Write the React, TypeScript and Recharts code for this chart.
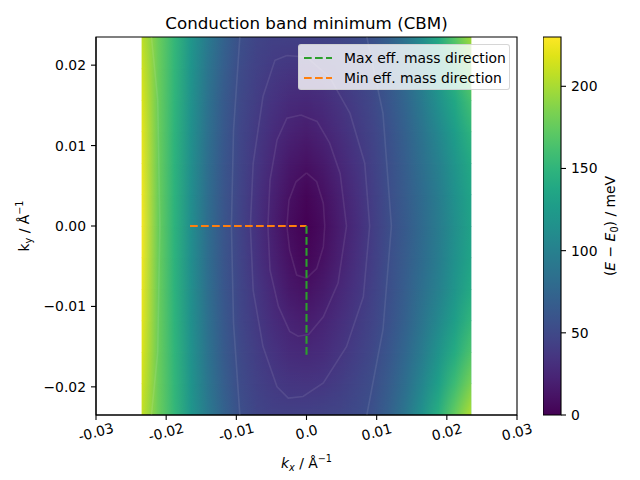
import React from 'react';
import { ComposedChart, XAxis, YAxis, ReferenceArea, Scatter } from 'recharts';

// ---------------- data ----------------
const KX = [-0.0235, -0.02115, -0.0188, -0.01645, -0.0141, -0.01175, -0.0094, -0.00705, -0.0047, -0.00235, 0,
  0.00235, 0.0047, 0.00705, 0.0094, 0.01175, 0.0141, 0.01645, 0.0188, 0.02115, 0.0235];
const KY = [0.0235, 0.01958, 0.01567, 0.01175, 0.00783, 0.00392, 0, -0.00392, -0.00783, -0.01175, -0.01567, -0.01958, -0.0235];

// energy (meV) per row of KY, one value per KX column
const E_ROW_00 = [208, 178, 152, 120, 94, 72, 55, 47, 44, 43, 44, 45, 47, 51, 57, 70, 88, 112, 140, 170, 198];
const E_ROW_01 = [214, 178, 151, 118, 90, 68, 52, 44, 39, 36, 35, 37, 41, 47, 53, 65, 81, 102, 126, 153, 178];
const E_ROW_02 = [218, 178, 150, 116, 87, 65, 50, 41, 34, 28, 26, 29, 35, 42, 49, 61, 75, 94, 115, 138, 161];
const E_ROW_03 = [222, 178, 149, 114, 85, 63, 48, 38, 29, 22, 18, 23, 30, 38, 46, 57, 71, 87, 106, 127, 149];
const E_ROW_04 = [224, 178, 148, 113, 83, 61, 47, 36, 25, 15, 10, 16, 25, 34, 44, 55, 68, 83, 100, 119, 139];
const E_ROW_05 = [226, 178, 148, 112, 82, 60, 46, 33, 21, 10, 3, 10, 20, 31, 42, 54, 66, 80, 96, 115, 134];
const E_ROW_06 = [228, 178, 148, 112, 82, 60, 45, 32, 19, 7, 0, 7, 18, 29, 41, 53, 65, 79, 95, 113, 132];
const E_ROW_07 = [226, 178, 148, 112, 82, 60, 46, 33, 21, 10, 3, 10, 20, 31, 42, 54, 66, 80, 96, 115, 134];
const E_ROW_08 = [224, 178, 148, 113, 83, 61, 47, 36, 25, 15, 10, 16, 25, 34, 44, 55, 68, 83, 100, 119, 140];
const E_ROW_09 = [222, 178, 149, 114, 85, 63, 48, 38, 29, 22, 18, 23, 30, 38, 46, 57, 71, 88, 107, 128, 151];
const E_ROW_10 = [218, 178, 150, 116, 87, 65, 50, 41, 34, 28, 26, 29, 35, 42, 49, 61, 76, 95, 117, 141, 165];
const E_ROW_11 = [214, 178, 151, 118, 90, 68, 52, 44, 39, 36, 35, 37, 41, 47, 53, 66, 82, 104, 129, 157, 183];
const E_ROW_12 = [209, 178, 152, 120, 94, 72, 55, 47, 44, 43, 44, 45, 47, 51, 57, 71, 90, 115, 144, 175, 203];
const E_ROWS = [E_ROW_00, E_ROW_01, E_ROW_02, E_ROW_03, E_ROW_04, E_ROW_05, E_ROW_06,
  E_ROW_07, E_ROW_08, E_ROW_09, E_ROW_10, E_ROW_11, E_ROW_12];

// contour lines: [kx, ky]
const CONTOUR_1 = [[0, 0.0066], [0.00145, 0.0055], [0.0024, 0.0028], [0.0026, 0], [0.0024, -0.0026], [0.00145, -0.0053], [0, -0.0065],
  [-0.0014, -0.0061], [-0.0024, -0.003], [-0.0028, 0], [-0.0025, 0.0032], [-0.0015, 0.0055], [0, 0.0066]];
const CONTOUR_2 = [[-0.0008, 0.0138], [0.0015, 0.013], [0.0033, 0.0103], [0.0048, 0.0065], [0.0057, 0], [0.0045, -0.0071],
  [0.0024, -0.0113], [0.0003, -0.0135], [-0.0012, -0.0137], [-0.0024, -0.0131], [-0.004, -0.01], [-0.0052, -0.0055],
  [-0.0055, 0], [-0.0052, 0.0057], [-0.0042, 0.0107], [-0.0028, 0.0134], [-0.0008, 0.0138]];
const CONTOUR_3 = [[-0.0028, 0.0212], [-0.0045, 0.0206], [-0.0062, 0.0161], [-0.0076, 0.0078], [-0.008, 0], [-0.0076, -0.008],
  [-0.0062, -0.015], [-0.0042, -0.02], [-0.0026, -0.0214], [-0.0005, -0.0212], [0.0024, -0.0195], [0.0057, -0.015],
  [0.0081, -0.0088], [0.009, 0], [0.0083, 0.0078], [0.0062, 0.014], [0.0033, 0.0185], [0, 0.021], [-0.0028, 0.0212]];
const CONTOUR_4L = [[-0.0095, 0.0235], [-0.0104, 0.0119], [-0.0107, 0], [-0.0104, -0.0121], [-0.0095, -0.0235]];
const CONTOUR_4R = [[0.0086, 0.0235], [0.0109, 0.014], [0.0121, 0], [0.0109, -0.0129], [0.0086, -0.0235]];
const CONTOUR_5L = [[-0.0221, 0.0235], [-0.0212, 0.0157], [-0.0209, 0], [-0.0212, -0.0157], [-0.0221, -0.0235]];
const CONTOURS = [CONTOUR_1, CONTOUR_2, CONTOUR_3, CONTOUR_4L, CONTOUR_4R, CONTOUR_5L];

const MAX_DIR = [[0, 0], [0, -0.0164]];
const MIN_DIR = [[-0.0166, 0], [0, 0]];

const XTICKS = [-0.03, -0.02, -0.01, 0, 0.01, 0.02, 0.03];
const XTICK_LABELS = ['-0.03', '-0.02', '-0.01', '0.0', '0.01', '0.02', '0.03'];
const YTICKS = [-0.02, -0.01, 0, 0.01, 0.02];
const YTICK_LABELS = ['\u22120.02', '\u22120.01', '0.00', '0.01', '0.02'];
const CB_TICKS = [0, 50, 100, 150, 200];
const E_MAX = 230;

const LEGEND_ITEMS = [
  { label: 'Max eff. mass direction', color: '#2ca02c' },
  { label: 'Min eff. mass direction', color: '#ff7f0e' },
];

// ---------------- styling helpers ----------------
const VIRIDIS = ['#440154', '#471365', '#482475', '#463480', '#414487', '#3b528b', '#355f8d', '#2f6c8e', '#2a788e', '#25848e',
  '#21918c', '#1e9c89', '#22a884', '#2fb47c', '#44bf70', '#5ec962', '#7ad151', '#9bd93c', '#bddf26', '#dfe318', '#fde725'];
const hex = (h: string) => [parseInt(h.slice(1, 3), 16), parseInt(h.slice(3, 5), 16), parseInt(h.slice(5, 7), 16)];
function viridis(v: number): string {
  const t = Math.max(0, Math.min(1, v / E_MAX)) * (VIRIDIS.length - 1);
  const i = Math.min(VIRIDIS.length - 2, Math.floor(t));
  const f = t - i;
  const a = hex(VIRIDIS[i]);
  const b = hex(VIRIDIS[i + 1]);
  const c = a.map((x, k) => Math.round(x + (b[k] - x) * f));
  return `rgb(${c[0]},${c[1]},${c[2]})`;
}

const FONT = 'DejaVu Sans, sans-serif';
const TICK_FS = 13.9;
const toPts = (arr: number[][]) => arr.map(([kx, ky]) => ({ kx, ky }));
const KX_MIN = KX[0];
const KX_MAX = KX[KX.length - 1];

const XTick = (props: any) => {
  const { x, y, payload } = props;
  const idx = XTICKS.findIndex((t) => Math.abs(t - payload.value) < 1e-9);
  return (
    <g transform={`translate(${x},${y + 12}) rotate(-15)`}>
      <text textAnchor="middle" dominantBaseline="central" fontSize={TICK_FS} fontFamily={FONT} fill="#000">
        {idx >= 0 ? XTICK_LABELS[idx] : ''}
      </text>
    </g>
  );
};

const YTick = (props: any) => {
  const { x, y, payload } = props;
  const idx = YTICKS.findIndex((t) => Math.abs(t - payload.value) < 1e-9);
  return (
    <text x={x} y={y} dy="0.36em" textAnchor="end" fontSize={TICK_FS} fontFamily={FONT} fill="#000">
      {idx >= 0 ? YTICK_LABELS[idx] : ''}
    </text>
  );
};

const CbTick = (props: any) => {
  const { x, y, payload } = props;
  return (
    <text x={x} y={y} dy="0.36em" textAnchor="start" fontSize={TICK_FS} fontFamily={FONT} fill="#000">
      {String(payload.value)}
    </text>
  );
};

const XLabel = (props: any) => {
  const vb = props.viewBox;
  const cx = vb.x + vb.width / 2;
  return (
    <text x={cx} y={vb.y + 53} textAnchor="middle" fontSize={TICK_FS} fontFamily={FONT} fill="#000">
      <tspan fontStyle="italic">k</tspan>
      <tspan fontStyle="italic" fontSize={9.7} dy={3}>x</tspan>
      <tspan dy={-3}> / Å</tspan>
      <tspan fontSize={9.7} dy={-6}>−1</tspan>
    </text>
  );
};

const YLabel = (props: any) => {
  const vb = props.viewBox;
  const cy = vb.y + vb.height / 2;
  const x = 21;
  return (
    <text x={x} y={cy} transform={`rotate(-90, ${x}, ${cy})`} textAnchor="middle" fontSize={TICK_FS} fontFamily={FONT} fill="#000">
      <tspan>k</tspan>
      <tspan fontSize={9.7} dy={3}>y</tspan>
      <tspan dy={-3}> / Å</tspan>
      <tspan fontSize={9.7} dy={-6}>−1</tspan>
    </text>
  );
};

const CbLabel = (props: any) => {
  const vb = props.viewBox;
  const cy = vb.y + vb.height / 2;
  const x = 72;
  return (
    <text x={x} y={cy} transform={`rotate(-90, ${x}, ${cy})`} textAnchor="middle" fontSize={TICK_FS} fontFamily={FONT} fill="#000">
      <tspan>(</tspan>
      <tspan fontStyle="italic">E</tspan>
      <tspan> − </tspan>
      <tspan fontStyle="italic">E</tspan>
      <tspan fontSize={9.7} dy={3}>0</tspan>
      <tspan dy={-3}>) / meV</tspan>
    </text>
  );
};

const Defs = () => (
  <svg width={0} height={0} style={{ position: 'absolute' }}>
    <defs>
      {E_ROWS.map((row, r) => (
        <linearGradient key={r} id={`erow${r}`} x1="0" y1="0" x2="1" y2="0">
          {row.map((v, c) => (
            <stop key={c} offset={(KX[c] - KX_MIN) / (KX_MAX - KX_MIN)} stopColor={viridis(v)} />
          ))}
        </linearGradient>
      ))}
      <linearGradient id="rampGrad" x1="0" y1="0" x2="0" y2="1">
        <stop offset="0" stopColor="#fff" stopOpacity={0} />
        <stop offset="1" stopColor="#fff" stopOpacity={1} />
      </linearGradient>
      <mask id="ramp" maskContentUnits="objectBoundingBox" x="0" y="0" width="1" height="1">
        <rect x="0" y="0" width="1" height="1" fill="url(#rampGrad)" />
      </mask>
      <linearGradient id="cbarGrad" x1="0" y1="1" x2="0" y2="0">
        {VIRIDIS.map((c, i) => (
          <stop key={i} offset={i / (VIRIDIS.length - 1)} stopColor={c} />
        ))}
      </linearGradient>
    </defs>
  </svg>
);

const noShape = () => <g />;

export default function App() {
  const W = 624;
  const H = 464;
  return (
    <div style={{ position: 'relative', width: W, height: H, fontFamily: FONT }}>
      <Defs />
      <div style={{ position: 'absolute', left: 0, top: 0 }}>
        <ComposedChart width={W} height={H} margin={{ top: 29, right: 115, bottom: 0, left: 0 }}>
          <XAxis
            dataKey="kx"
            type="number"
            domain={[-0.03, 0.03]}
            ticks={XTICKS}
            allowDataOverflow
            height={57}
            tick={<XTick />}
            tickSize={5}
            tickMargin={0}
            stroke="#000"
            tickLine={{ stroke: '#000', strokeWidth: 1.1 }}
            axisLine={{ stroke: '#000', strokeWidth: 1.1 }}
            label={<XLabel />}
          />
          <YAxis
            dataKey="ky"
            type="number"
            domain={[-0.0235, 0.0235]}
            ticks={YTICKS}
            allowDataOverflow
            width={88}
            tick={<YTick />}
            tickSize={5}
            tickMargin={5}
            stroke="#000"
            tickLine={{ stroke: '#000', strokeWidth: 1.1 }}
            axisLine={{ stroke: '#000', strokeWidth: 1.1 }}
            label={<YLabel />}
          />
          {KY.slice(0, KY.length - 1).map((ky, i) => (
            <ReferenceArea
              key={`strip${i}`}
              x1={KX_MIN}
              x2={KX_MAX}
              y1={KY[i + 1]}
              y2={ky}
              ifOverflow="visible"
              shape={(p: any) => (
                <g>
                  <rect x={p.x} y={p.y} width={p.width} height={p.height + (i < KY.length - 2 ? 0.6 : 0)} fill={`url(#erow${i})`} />
                  <rect x={p.x} y={p.y} width={p.width} height={p.height + (i < KY.length - 2 ? 0.6 : 0)} fill={`url(#erow${i + 1})`} mask="url(#ramp)" />
                </g>
              )}
            />
          ))}
          <ReferenceArea x1={-0.03} x2={0.03} y1={-0.0235} y2={0.0235} fill="none" fillOpacity={0} stroke="#000" strokeWidth={1.1} ifOverflow="visible" />
          {CONTOURS.map((c, i) => (
            <Scatter
              key={`c${i}`}
              data={toPts(c)}
              line={{ stroke: '#ffffff', strokeOpacity: 0.09, strokeWidth: 1.6 }}
              shape={noShape}
              isAnimationActive={false}
              legendType="none"
            />
          ))}
          <Scatter data={toPts(MIN_DIR)} line={{ stroke: '#ff7f0e', strokeWidth: 2.1, strokeDasharray: '7.7 3.3' }} shape={noShape} isAnimationActive={false} />
          <Scatter data={toPts(MAX_DIR)} line={{ stroke: '#2ca02c', strokeWidth: 2.1, strokeDasharray: '7.7 3.3' }} shape={noShape} isAnimationActive={false} />
        </ComposedChart>
      </div>

      {/* colorbar */}
      <div style={{ position: 'absolute', left: 535, top: 0 }}>
        <ComposedChart width={89} height={H} margin={{ top: 29, right: 0, bottom: 57, left: 0 }} data={[{ x: 0.5, v: 0 }]}>
          <XAxis dataKey="x" type="number" domain={[0, 1]} hide />
          <YAxis
            dataKey="v"
            type="number"
            orientation="right"
            domain={[0, E_MAX]}
            ticks={CB_TICKS}
            width={71}
            tick={<CbTick />}
            tickSize={5}
            tickMargin={5}
            axisLine={false}
            tickLine={{ stroke: '#000', strokeWidth: 1.1 }}
            label={<CbLabel />}
          />
          <ReferenceArea x1={0} x2={1} y1={0} y2={E_MAX} fill="url(#cbarGrad)" fillOpacity={1} stroke="#000" strokeWidth={1.1} ifOverflow="visible" />
          <Scatter dataKey="v" shape={noShape} isAnimationActive={false} />
        </ComposedChart>
      </div>

      {/* title */}
      <svg width={W} height={30} style={{ position: 'absolute', left: 0, top: 0, pointerEvents: 'none' }}>
        <text x={298.5} y={20.5} textAnchor="middle" fontSize={16.7} fontFamily={FONT} fill="#000">
          Conduction band minimum (CBM)
        </text>
      </svg>

      {/* legend */}
      <div
        style={{
          position: 'absolute', left: 290, top: 36, width: 210, height: 44,
          background: 'rgba(255,255,255,0.8)', border: '1px solid rgba(204,204,204,0.8)', borderRadius: 3,
        }}
      >
        {LEGEND_ITEMS.map((it, i) => (
          <div key={i} style={{ position: 'absolute', left: 5, top: 3 + i * 20, height: 20, display: 'flex', alignItems: 'center', whiteSpace: 'nowrap' }}>
            <svg width={30} height={20}>
              <line x1={0} y1={10} x2={28} y2={10} stroke={it.color} strokeWidth={2.1} strokeDasharray="7.7 3.3" />
            </svg>
            <span style={{ marginLeft: 10, fontSize: TICK_FS, fontFamily: FONT, color: '#000', lineHeight: '20px' }}>{it.label}</span>
          </div>
        ))}
      </div>
    </div>
  );
}
